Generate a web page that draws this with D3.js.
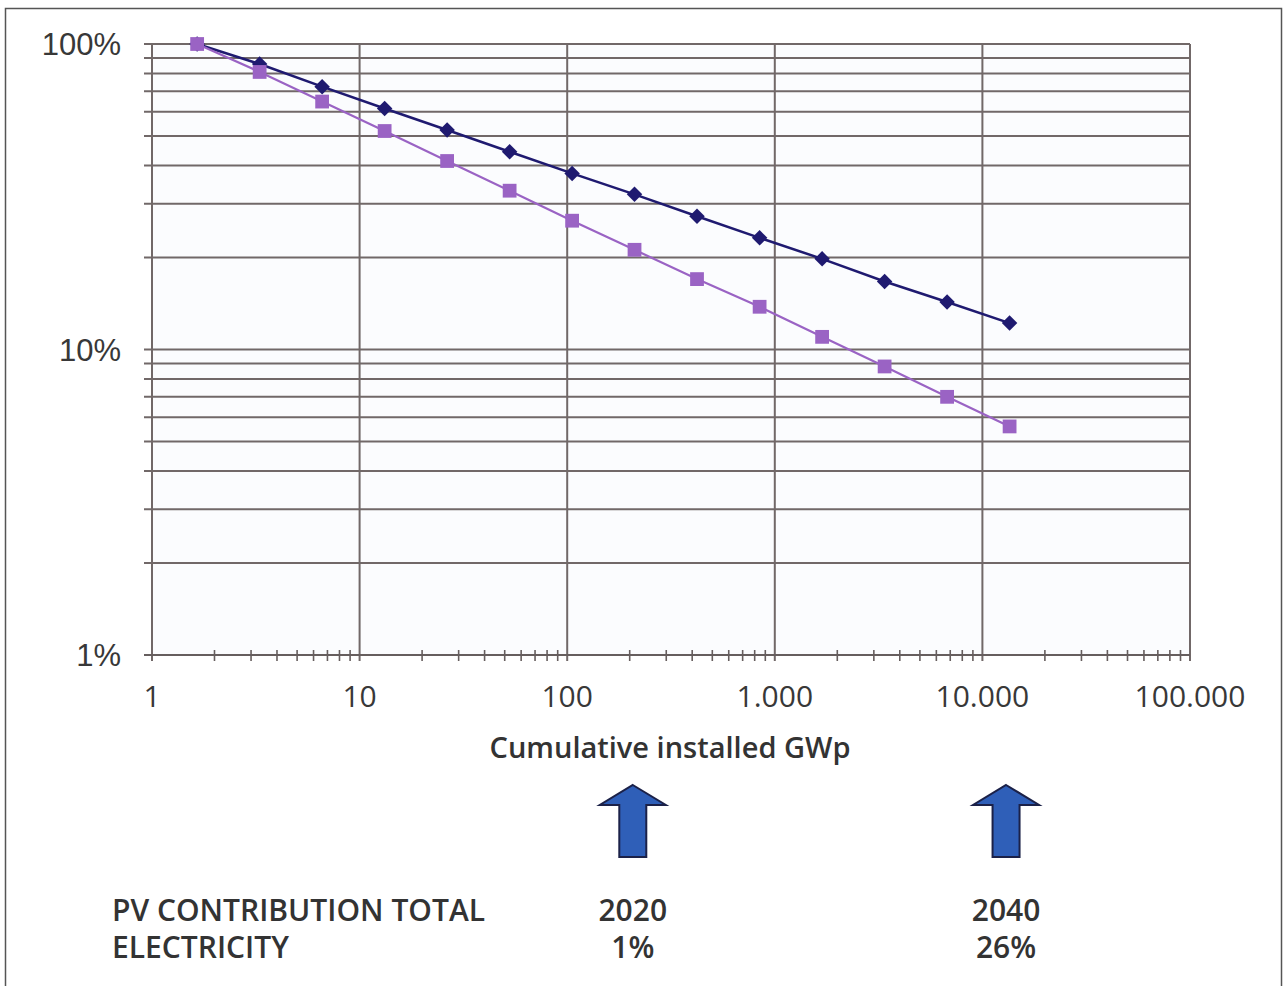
<!DOCTYPE html>
<html>
<head>
<meta charset="utf-8">
<script src="https://cdn.jsdelivr.net/npm/d3@7/dist/d3.min.js"></script>
<style>
  html, body { margin: 0; padding: 0; background: #ffffff; }
  svg { display: block; }
</style>
</head>
<body>
<svg id="chart" width="1287" height="986"></svg>
<script>
// ---- Data ----
const cumulativeGWp = [1.65, 3.3, 6.6, 13.2, 26.4, 52.8, 105.6, 211, 422, 845, 1690, 3380, 6760, 13520];
const seriesA = [100, 86, 72.5, 61.5, 52.3, 44.4, 37.7, 32.2, 27.3, 23.2, 19.8, 16.7, 14.3, 12.2]; // dark blue diamonds
const seriesB = [100, 81, 64.8, 51.9, 41.4, 33.1, 26.4, 21.2, 17.0, 13.8, 11.0, 8.8, 7.0, 5.6];    // purple squares
const xTickValues = [1, 10, 100, 1000, 10000, 100000];
const xTickLabels = ["1", "10", "100", "1.000", "10.000", "100.000"];
const yTickValues = [1, 10, 100];
const yTickLabels = ["1%", "10%", "100%"];
const xTitle = "Cumulative installed GWp";
const milestoneValues = [207, 13000];
const milestoneYears = ["2020", "2040"];
const milestoneShares = ["1%", "26%"];
const footerLines = ["PV CONTRIBUTION TOTAL", "ELECTRICITY"];

(function () {
// ---- Layout ----
const svg = d3.select("#chart");
const pL = 152, pR = 1190, pT = 44, pB = 655;

const x = d3.scaleLog().domain([1, 100000]).range([pL, pR]);
const y = d3.scaleLog().domain([1, 100]).range([pB, pT]);

// outer frame
svg.append("rect").attr("x", 5.5).attr("y", 8.5).attr("width", 1276).attr("height", 1000)
  .attr("fill", "#ffffff").attr("stroke", "#555555").attr("stroke-width", 1.5);

// plot background
svg.append("rect").attr("x", pL).attr("y", pT).attr("width", pR - pL).attr("height", pB - pT)
  .attr("fill", "#fbfcfe");

const gridColor = "#716868";

// horizontal gridlines (all log ticks) with left tick extension
const yGrid = y.ticks().filter(v => v > 1);
svg.append("g").selectAll("line").data(yGrid).join("line")
  .attr("x1", pL - 8).attr("x2", pR)
  .attr("y1", d => y(d)).attr("y2", d => y(d))
  .attr("stroke", gridColor).attr("stroke-width", 2);

// vertical gridlines at decades
svg.append("g").selectAll("line").data(xTickValues).join("line")
  .attr("x1", d => x(d)).attr("x2", d => x(d))
  .attr("y1", pT).attr("y2", pB + 6)
  .attr("stroke", gridColor).attr("stroke-width", 2);

// x axis line
svg.append("line").attr("x1", pL - 8).attr("x2", pR).attr("y1", pB).attr("y2", pB)
  .attr("stroke", "#665e5e").attr("stroke-width", 2.2);

// x minor ticks
const xMinor = x.ticks().filter(v => !xTickValues.includes(v));
svg.append("g").selectAll("line").data(xMinor).join("line")
  .attr("x1", d => x(d)).attr("x2", d => x(d))
  .attr("y1", pB - 5).attr("y2", pB + 6)
  .attr("stroke", "#665e5e").attr("stroke-width", 1.6);

// x tick labels
svg.append("g").selectAll("text").data(xTickValues).join("text")
  .attr("x", d => x(d)).attr("y", 707)
  .attr("text-anchor", "middle")
  .attr("font-family", "'Open Sans', sans-serif").attr("font-size", 30)
  .attr("fill", "#383838")
  .text((d, i) => xTickLabels[i]);

// y tick labels
svg.append("g").selectAll("text").data(yTickValues).join("text")
  .attr("x", 121).attr("y", d => y(d) + 11)
  .attr("text-anchor", "end")
  .attr("font-family", "'Liberation Sans', Arial, sans-serif").attr("font-size", 31)
  .attr("fill", "#383838")
  .text((d, i) => yTickLabels[i]);

// x title
svg.append("text").attr("x", 670).attr("y", 758).attr("text-anchor", "middle")
  .attr("font-family", "'Open Sans', sans-serif").attr("font-size", 29).attr("font-weight", 600)
  .attr("fill", "#333333").text(xTitle);

// series
const line = d3.line().x(d => x(d[0])).y(d => y(d[1]));
const dataA = cumulativeGWp.map((v, i) => [v, seriesA[i]]);
const dataB = cumulativeGWp.map((v, i) => [v, seriesB[i]]);

const colA = "#1f1a70", colB = "#9a63c4";

svg.append("path").datum(dataA).attr("d", line).attr("fill", "none")
  .attr("stroke", colA).attr("stroke-width", 2.5);
svg.append("g").selectAll("path").data(dataA).join("path")
  .attr("d", d3.symbol(d3.symbolSquare, 120)())
  .attr("transform", d => `translate(${x(d[0])},${y(d[1])}) rotate(45)`)
  .attr("fill", colA);

svg.append("path").datum(dataB).attr("d", line).attr("fill", "none")
  .attr("stroke", colB).attr("stroke-width", 2.2);
svg.append("g").selectAll("path").data(dataB).join("path")
  .attr("d", d3.symbol(d3.symbolSquare, 190)())
  .attr("transform", d => `translate(${x(d[0])},${y(d[1])})`)
  .attr("fill", colB);

// milestone arrows
const arrowPath = cx => {
  const hw = 33, sw = 13.5, tip = 785, base = 805, end = 857;
  return `M${cx},${tip} L${cx + hw},${base} L${cx + sw},${base} L${cx + sw},${end} L${cx - sw},${end} L${cx - sw},${base} L${cx - hw},${base} Z`;
};
svg.append("g").selectAll("path").data(milestoneValues).join("path")
  .attr("d", d => arrowPath(x(d)))
  .attr("fill", "#2f5fb8").attr("stroke", "#1b2148").attr("stroke-width", 2)
  .attr("stroke-linejoin", "miter");

// milestone labels
const msG = svg.append("g").attr("font-family", "'Open Sans', sans-serif").attr("font-size", 30)
  .attr("font-weight", 600).attr("fill", "#333333").attr("text-anchor", "middle");
msG.selectAll("text.yr").data(milestoneValues).join("text").attr("class", "yr")
  .attr("x", d => x(d)).attr("y", 921).text((d, i) => milestoneYears[i]);
msG.selectAll("text.sh").data(milestoneValues).join("text").attr("class", "sh")
  .attr("x", d => x(d)).attr("y", 958).text((d, i) => milestoneShares[i]);

// footer
svg.append("g").attr("font-family", "'Open Sans', sans-serif").attr("font-size", 30)
  .attr("font-weight", 600).attr("fill", "#333333")
  .selectAll("text").data(footerLines).join("text")
  .attr("x", 112).attr("y", (d, i) => 921 + i * 37).text(d => d);
})();
</script>
</body>
</html>
